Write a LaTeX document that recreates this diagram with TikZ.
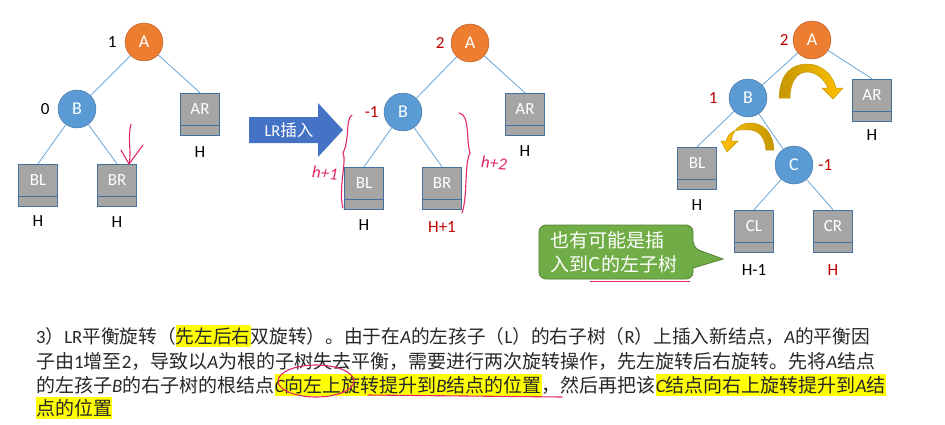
\documentclass[tikz,border=0pt]{standalone}
\usepackage{fontspec}
\setmainfont{Carlito}
\newfontfamily\cjk{Noto Sans CJK SC}
\usetikzlibrary{calc,positioning,arrows.meta}
\definecolor{orangeN}{RGB}{237,125,49}
\definecolor{orangeD}{RGB}{174,90,33}
\definecolor{blueN}{RGB}{91,155,213}
\definecolor{blueD}{RGB}{65,113,156}
\definecolor{blueArr}{RGB}{68,114,196}
\definecolor{grayT}{RGB}{165,165,165}
\definecolor{redL}{RGB}{192,0,0}
\definecolor{penred}{RGB}{226,40,100}
\definecolor{gold}{RGB}{255,192,0}
\definecolor{goldD}{RGB}{196,150,0}
\definecolor{greenC}{RGB}{112,173,71}
\definecolor{greenD}{RGB}{80,126,50}
\definecolor{hlyellow}{RGB}{255,255,0}
\definecolor{ink}{RGB}{40,40,40}
\newcommand\hl[1]{{\setlength\fboxsep{0pt}\colorbox{hlyellow}{\rule[-4pt]{0pt}{22pt}#1}}}
\newcommand\vn[1]{{\rmfamily\itshape #1}}
\newcommand\lat[1]{{\rmfamily #1}}
\begin{document}
\begin{tikzpicture}[x=1pt,y=-1pt,
	root/.style={circle,draw=orangeD,fill=orangeN,text=white,minimum size=38pt,inner sep=0pt,font=\fontsize{18}{20}\selectfont},
	knot/.style={circle,draw=blueD,fill=blueN,text=white,minimum size=38pt,inner sep=0pt,font=\fontsize{18}{20}\selectfont},
	subtree/.style={rectangle,draw=blueD,fill=grayT,text=white,minimum width=39pt,minimum height=42pt,inner sep=0pt,
		text height=10pt,text depth=10pt,font=\fontsize{17}{18}\selectfont,
		path picture={\draw[blueD] ([yshift=10pt]path picture bounding box.south west) -- ([yshift=10pt]path picture bounding box.south east);}},
	lbl/.style={inner sep=1pt,font=\fontsize{17}{18}\selectfont},
	redlbl/.style={lbl,text=redL},
	link/.style={draw=blueN,line width=0.7pt},
	scribble/.style={draw=penred,line width=1.1pt,line cap=round,line join=round},
	para/.style={anchor=base west,inner sep=0pt,text=ink,font=\cjk\fontsize{19}{23}\selectfont},
	]
	\fill[white] (0,0) rectangle (945,424);
	\useasboundingbox (0,0) rectangle (945,424);
	% first tree
	\node[root] (A1) at (144,42) {A};
	\node[knot] (B1) at (77,109) {B};
	\node[subtree] (AR1) at (200,114) {AR};
	\node[subtree] (BL1) at (38,185) {BL};
	\node[subtree] (BR1) at (117,185) {BR};
	\node[lbl,left=7pt of A1] (f1) {1};
	\node[lbl,left=7pt of B1] (f2) {0};
	\node[lbl,below=10pt of AR1] (h1) {H};
	\node[lbl,below=8pt of BL1] (h2) {H};
	\node[lbl,below=9pt of BR1] (h3) {H};
	\draw[link] (A1) -- (B1);
	\draw[link] (A1) -- (AR1.north);
	\draw[link] (B1) -- (BL1.north);
	\draw[link] (B1) -- (BR1.north);
	\coordinate (ins) at (129,164);
	\draw[scribble] (131,124) .. controls (127,140) and (132,150) .. (ins);
	\draw[scribble] (121,150) -- (ins) -- (143,145);
	% LR arrow
	\fill[blueArr] (249,117) -- (318,117) -- (318,103) -- (343,130) -- (318,157) -- (318,143) -- (249,143) -- cycle;
	\node[text=white,font=\cjk\fontsize{16.5}{18}\selectfont] (lr) at (289,130) {\lat{LR}插入};
	% second tree
	\node[root] (A2) at (470,43) {A};
	\node[knot] (B2) at (403,112) {B};
	\node[subtree] (AR2) at (525,114) {AR};
	\node[subtree] (BL2) at (364,188) {BL};
	\node[subtree] (BR2) at (442,188) {BR};
	\node[redlbl,left=5pt of A2] (f3) {2};
	\node[redlbl,left=4pt of B2] (f4) {-1};
	\node[lbl,below=9pt of AR2] (h4) {H};
	\node[lbl,below=9pt of BL2] (h5) {H};
	\node[redlbl,below=11pt of BR2] (h6) {H+1};
	\draw[link] (A2) -- (B2);
	\draw[link] (A2) -- (AR2.north);
	\draw[link] (B2) -- (BL2.north);
	\draw[link] (B2) -- (BR2.north);
	\draw[scribble] (352,115) .. controls (345,120) and (350,140) .. (343,153) .. controls (347,160) and (338,190) .. (343,208);
	\draw[scribble] (459,113) .. controls (470,114) and (466,140) .. (470,153) .. controls (464,165) and (468,195) .. (462,213);
	\node[text=penred,font=\rmfamily\itshape\fontsize{17}{18}\selectfont,rotate=-5] (hp1) at (325,173) {h+1};
	\node[text=penred,font=\rmfamily\itshape\fontsize{17}{18}\selectfont,rotate=-5] (hp2) at (494,163) {h+2};
	% third tree
	\node[root] (A3) at (812,40) {A};
	\node[knot] (B3) at (748,98) {B};
	\node[subtree] (AR3) at (872,100) {AR};
	\node[subtree] (BL3) at (697,168) {BL};
	\node[knot] (C3) at (794,165) {C};
	\node[subtree] (CL3) at (754,231) {CL};
	\node[subtree] (CR3) at (833,231) {CR};
	\node[redlbl,left=3pt of A3] (f5) {2};
	\node[redlbl,left=10pt of B3] (f6) {1};
	\node[redlbl,right=4pt of C3] (f7) {-1};
	\node[lbl,below=7pt of AR3] (h7) {H};
	\node[lbl,below=9pt of BL3] (h8) {H};
	\node[lbl,below=11pt of CL3] (h9) {H-1};
	\node[redlbl,below=11pt of CR3] (h10) {H};
	\draw[link] (A3) -- (B3);
	\draw[link] (A3) -- (AR3.north);
	\draw[link] (B3) -- (BL3.north);
	\draw[link] (B3) -- (C3);
	\draw[link] (C3) -- (CL3.north);
	\draw[link] (C3) -- (CR3.north);
	% rotation arrows
	\draw[goldD,line width=0.5pt,left color=goldD,right color=gold] (779,98) .. controls (780,73) and (792,64) .. (807,64) .. controls (822,64) and (833,75) .. (836,88)
		-- (843,88) -- (833,99) -- (822,88) -- (828,88) .. controls (824,79) and (816,72) .. (807,72) .. controls (797,72) and (790,82) .. (790,98) -- cycle;
	\draw[goldD,line width=0.5pt,left color=gold,right color=goldD] (774,150) .. controls (773,132) and (763,123) .. (750,123) .. controls (740,123) and (733,130) .. (731,141)
		-- (738,141) -- (727,152) -- (721,141) -- (726,141) .. controls (730,128) and (739,130) .. (750,130) .. controls (759,130) and (765,138) .. (766,150) -- cycle;
	% callout
	\draw[fill=greenC,draw=greenD,line width=0.8pt,rounded corners=7pt] (539,225) -- (693,225) -- (693,248) [sharp corners] -- (723,259) -- (693,268) [rounded corners=7pt] -- (693,279) -- (539,279) -- cycle;
	\node[text=white,align=left,inner sep=0pt,font=\cjk\fontsize{19}{24}\selectfont] (note) at (614,252) {也有可能是插\\入到C的左子树};
	\draw[scribble,line width=0.8pt] (590,281) -- (690,281);
	% text
	\node[para,font=\cjk\fontsize{18.7}{23}\selectfont] (l1) at (36,343) {\lat{3}）\lat{LR}平衡旋转（\hl{先左后右}双旋转）。由于在\vn{A}的左孩子（\lat{L}）的右子树（\lat{R}）上插入新结点，\vn{A}的平衡因};
	\node[para] (l2) at (36,368) {子由\lat{1}增至\lat{2}，导致以\vn{A}为根的子树失去平衡，需要进行两次旋转操作，先左旋转后右旋转。先将\vn{A}结点};
	\node[para] (l3) at (36,392) {的左孩子\vn{B}的右子树的根结点\hl{\vn{C}向左上旋转提升到\vn{B}结点的位置}，然后再把该\hl{\vn{C}结点向右上旋转提升到\vn{A}结}};
	\node[para] (l4) at (36,415) {\hl{点的位置}};
	\draw[scribble] (316,381) ellipse [x radius=38,y radius=16];
	\draw[scribble] (368,395) -- (562,397);
\end{tikzpicture}
\end{document}
